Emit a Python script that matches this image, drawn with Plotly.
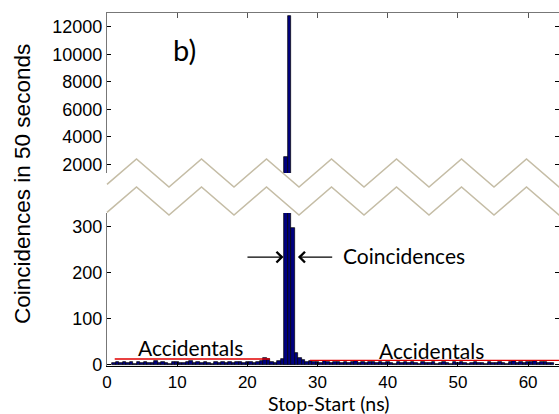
import plotly.graph_objects as go

# ---------------- data ----------------
bin_ns = [1.0, 1.5, 2.0, 2.5, 3.0, 3.5, 4.0, 4.5, 5.0, 5.5, 6.0, 6.5, 7.0, 7.5, 8.0, 8.5,
          9.0, 9.5, 10.0, 10.5, 11.0, 11.5, 12.0, 12.5, 13.0, 13.5, 14.0, 14.5, 15.0, 15.5,
          16.0, 16.5, 17.0, 17.5, 18.0, 18.5, 19.0, 19.5, 20.0, 20.5, 21.0, 21.5, 22.0, 22.5,
          23.0, 23.5, 24.0, 24.5, 25.0, 25.5, 26.0, 26.5, 27.0, 27.5, 28.0, 28.5, 29.0, 29.5,
          30.0, 30.5, 31.0, 31.5, 32.0, 32.5, 33.0, 33.5, 34.0, 34.5, 35.0, 35.5, 36.0, 36.5,
          37.0, 37.5, 38.0, 38.5, 39.0, 39.5, 40.0, 40.5, 41.0, 41.5, 42.0, 42.5, 43.0, 43.5,
          44.0, 44.5, 45.0, 45.5, 46.0, 46.5, 47.0, 47.5, 48.0, 48.5, 49.0, 49.5, 50.0, 50.5,
          51.0, 51.5, 52.0, 52.5, 53.0, 53.5, 54.0, 54.5, 55.0, 55.5, 56.0, 56.5, 57.0, 57.5,
          58.0, 58.5, 59.0, 59.5, 60.0, 60.5, 61.0, 61.5, 62.0, 62.5, 63.0, 63.5]

counts_left = [5, 6, 4, 7, 5, 6, 3, 6, 5, 7, 4, 5, 8, 4, 6, 5, 3, 6, 7, 5, 4, 6, 8, 5,
               6, 4, 7, 5, 3, 6, 5, 7, 4, 6, 5, 7, 6, 4, 6, 7, 5, 6, 8, 15, 14, 6, 5, 8]
counts_peak = [12, 2500, 12800, 297, 26, 15, 10]
counts_right = [7, 8, 6, 7, 5, 8, 6, 5, 7, 6, 4, 7, 5, 6, 8, 5, 6, 4, 7, 6,
                5, 7, 4, 6, 5, 3, 6, 5, 7, 4, 6, 5, 3, 6, 4, 5, 7, 3, 5, 6,
                4, 3, 6, 5, 7, 4, 3, 5, 6, 4, 5, 3, 6, 4, 5, 7, 5, 3, 6, 8,
                4, 6, 5, 7, 6, 8, 5, 7, 6, 4, 5]
counts = counts_left + counts_peak + counts_right

acc_left_x = [1.1, 23.2]
acc_left_y = [13, 13]
acc_right_x = [28.9, 64.4]
acc_right_y = [10, 10]

x_ticks = [0, 10, 20, 30, 40, 50, 60]
top_ticks = [2000, 4000, 6000, 8000, 10000, 12000]
bottom_ticks = [0, 100, 200, 300]

# ---------------- layout geometry ----------------
W, H = 559, 414
ML, MR, MT, MB = 107, 0, 13, 48
PW, PH = W - ML - MR, H - MT - MB
BOTTOM_PX = H - MB


def px2paper(px, py):
    return (px - ML) / PW, (BOTTOM_PX - py) / PH


TOP_DOM = [(BOTTOM_PX - 173) / PH, 1.0]
BOT_DOM = [0.0, (BOTTOM_PX - 213) / PH]

ARIAL = "Liberation Sans, Arial, sans-serif"
CAL = "Lato, Carlito, Calibri, sans-serif"

fig = go.Figure()

bar_style = dict(marker=dict(color="#00007f", line=dict(color="black", width=0.7)),
                 width=0.5, showlegend=False, hoverinfo="skip")
fig.add_trace(go.Bar(x=bin_ns, y=counts, xaxis="x", yaxis="y", **bar_style))
fig.add_trace(go.Bar(x=bin_ns, y=counts, xaxis="x2", yaxis="y2", **bar_style))

line_style = dict(mode="lines", line=dict(color="#e00000", width=1.3), showlegend=False,
                  hoverinfo="skip")
fig.add_trace(go.Scatter(x=acc_left_x, y=acc_left_y, xaxis="x", yaxis="y", **line_style))
fig.add_trace(go.Scatter(x=acc_right_x, y=acc_right_y, xaxis="x", yaxis="y", **line_style))

xr = [0, 64.4]
tickfont = dict(family=ARIAL, size=18, color="black")
xtickfont = dict(family=ARIAL, size=17, color="black")
fig.update_layout(
    width=W, height=H,
    margin=dict(l=ML, r=MR, t=MT, b=MB, autoexpand=False),
    paper_bgcolor="white", plot_bgcolor="white",
    bargap=0, barmode="overlay",
    xaxis=dict(domain=[0, 1], range=xr, anchor="y", tickvals=x_ticks,
               ticks="inside", ticklen=4, tickcolor="black",
               showline=True, linecolor="black", linewidth=1.2,
               showgrid=False, zeroline=False, tickfont=xtickfont),
    yaxis=dict(domain=BOT_DOM, range=[-2.2, 329.7], anchor="x", tickvals=bottom_ticks,
               ticks="inside", ticklen=4, tickcolor="black",
               showline=True, linecolor="#777777", linewidth=1.2, mirror="ticks",
               showgrid=False, zeroline=False, tickfont=tickfont),
    xaxis2=dict(domain=[0, 1], range=xr, anchor="y2", side="top", tickvals=x_ticks,
                ticks="inside", ticklen=5, tickcolor="#555555", showticklabels=False,
                showline=True, linecolor="#777777", linewidth=1.2,
                showgrid=False, zeroline=False),
    yaxis2=dict(domain=TOP_DOM, range=[1368, 12996], anchor="x2", tickvals=top_ticks,
                tickformat="d",
                ticks="inside", ticklen=4, tickcolor="black",
                showline=True, linecolor="#777777", linewidth=1.2, mirror="ticks",
                showgrid=False, zeroline=False, tickfont=tickfont),
)

# ---------------- zigzag break marks ----------------
def zigzag(peak_y, trough_y):
    pts = []
    x = 104.0
    k = 0
    while x <= W + 40:
        y = trough_y if k % 2 == 0 else peak_y
        pts.append((x, y))
        x += 32.5
        k += 1
    (x0, y0), (x1, y1) = pts[0], pts[1]
    yl = y0 + (ML - x0) / (x1 - x0) * (y1 - y0)
    pts[0] = (ML, yl)
    path = ""
    for i, (px, py) in enumerate(pts):
        fx, fy = px2paper(px, py)
        path += ("M" if i == 0 else "L") + f"{fx:.5f},{fy:.5f} "
    return path

for py_peak, py_trough in [(159, 187), (187, 215)]:
    fig.add_shape(type="path", path=zigzag(py_peak, py_trough), xref="paper", yref="paper",
                  line=dict(color="#c5bda6", width=1.6), layer="above")

# ---------------- annotations ----------------
def ann_px(text, px, py, size, family=CAL, xanchor="center", yanchor="middle", angle=0,
           pad=1):
    fx, fy = px2paper(px, py)
    fig.add_annotation(text=text, x=fx, y=fy, xref="paper", yref="paper", showarrow=False,
                       xanchor=xanchor, yanchor=yanchor, textangle=angle, borderpad=pad,
                       font=dict(family=family, size=size, color="black"))

ann_px("b)", 184, 50, 29)
ann_px("Coincidences", 341, 255, 21, xanchor="left")
ann_px("Accidentals", 136, 347, 21, xanchor="left")
ann_px("Accidentals", 377, 350, 21, xanchor="left")
ann_px("Stop-Start (ns)", 328, 403, 19.5, pad=0)
ann_px("Coincidences in 50 seconds", 22, 184, 22.5, family=ARIAL, angle=-90)

# arrows
fig.add_annotation(x=25.15, y=234, ax=19.8, ay=234, xref="x", yref="y", axref="x", ayref="y",
                   text="", showarrow=True, arrowhead=4, arrowsize=1.6, arrowwidth=1.3,
                   arrowcolor="black")
fig.add_annotation(x=27.2, y=234, ax=32.3, ay=234, xref="x", yref="y", axref="x", ayref="y",
                   text="", showarrow=True, arrowhead=4, arrowsize=1.6, arrowwidth=1.3,
                   arrowcolor="black")

fig.write_html("out.html", config={"displayModeBar": False},
               post_script="document.body.style.margin='0';document.body.style.overflow='hidden';")
